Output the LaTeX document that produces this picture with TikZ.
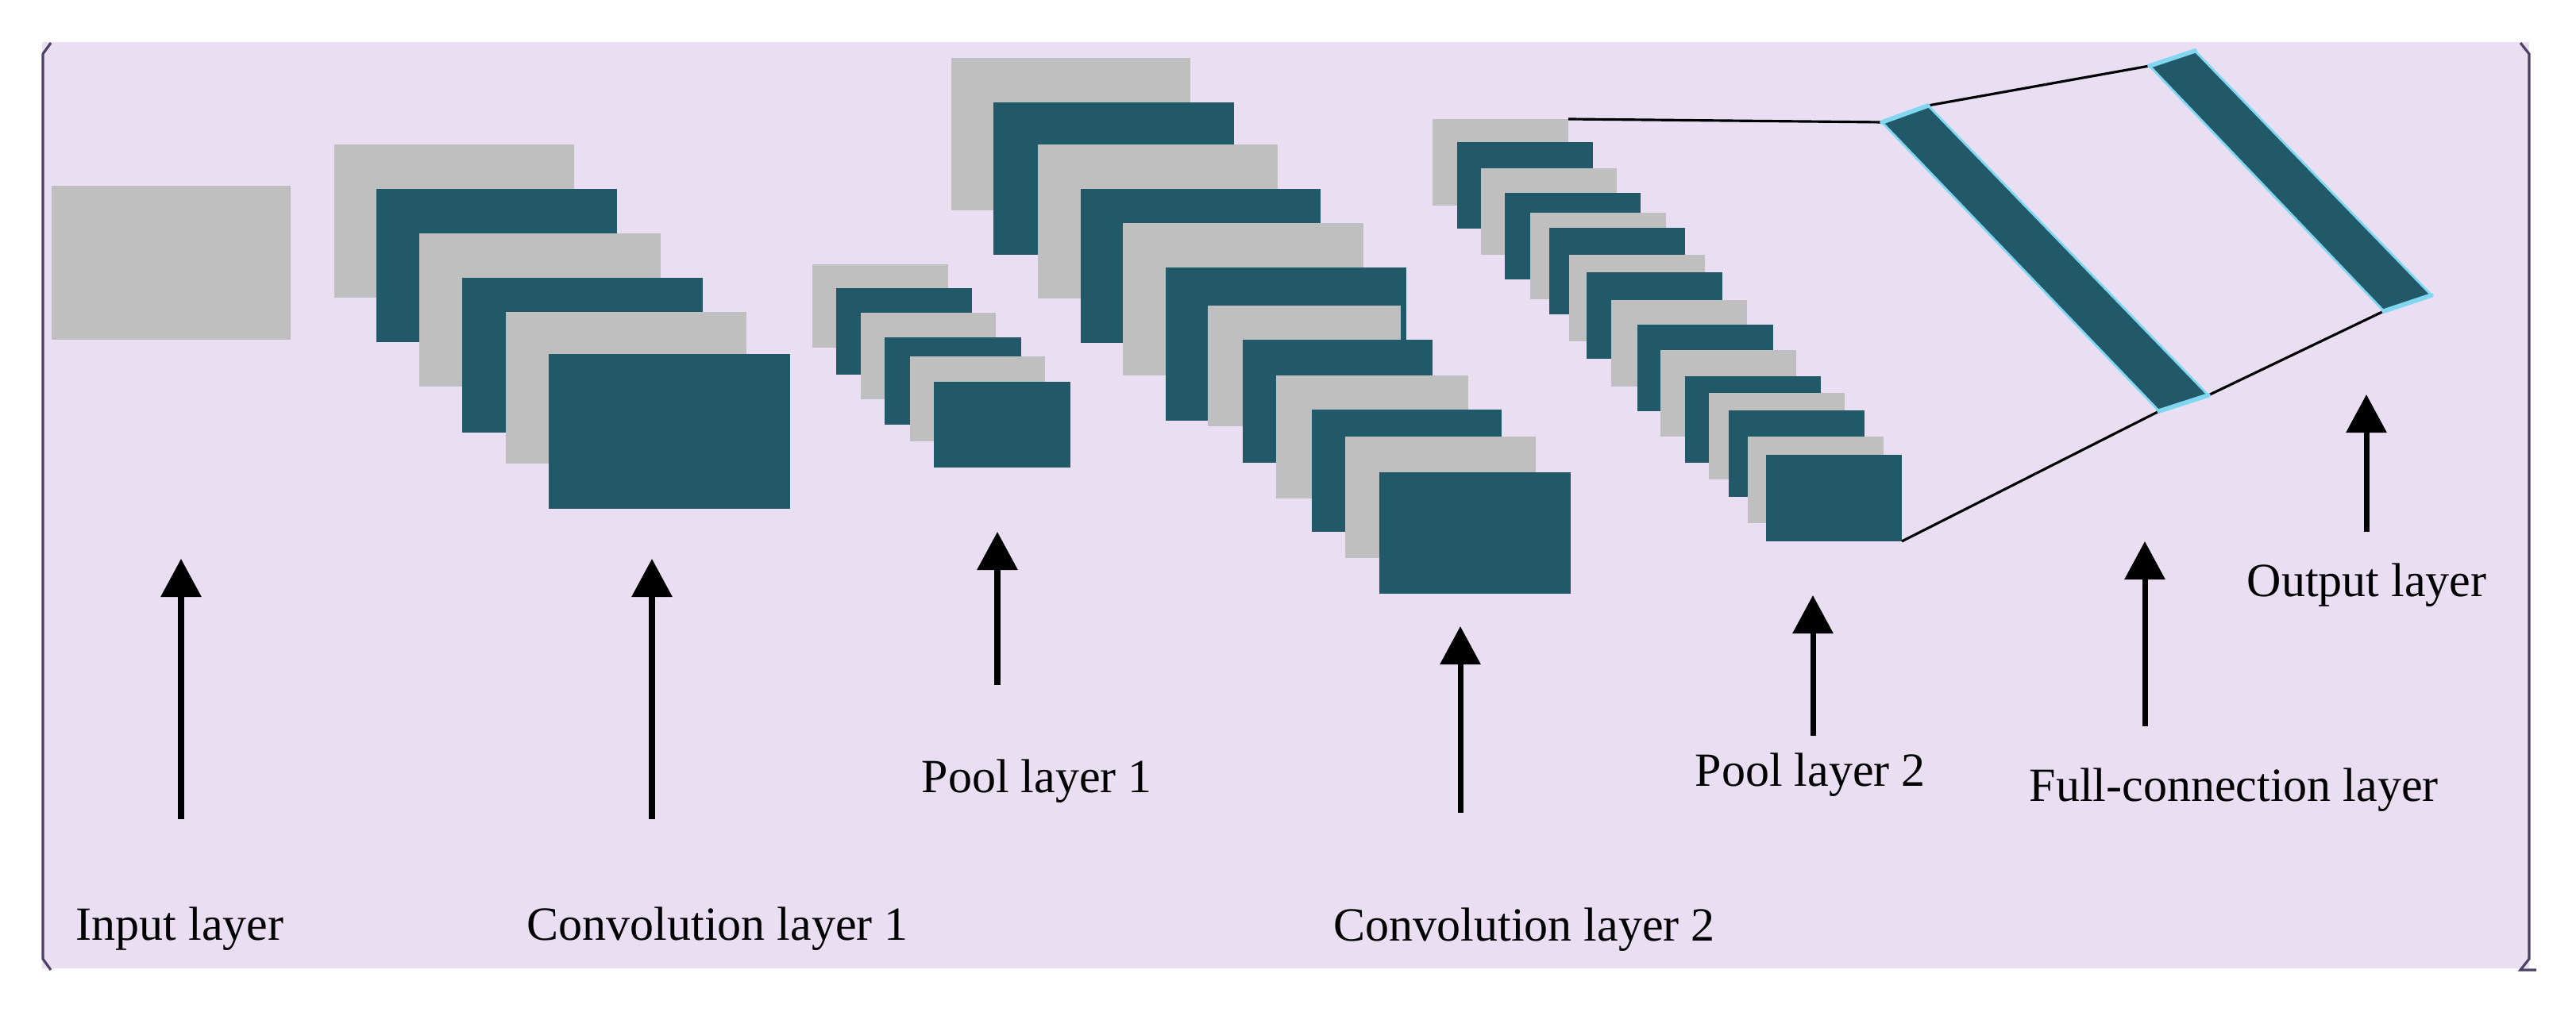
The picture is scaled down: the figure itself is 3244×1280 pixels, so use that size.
\documentclass[tikz,border=0pt]{standalone}
\usepackage{fontspec}
\setmainfont{Liberation Serif}
\usetikzlibrary{arrows.meta,fit}
\definecolor{lav}{RGB}{234,222,243}
\definecolor{gbox}{RGB}{191,191,191}
\definecolor{tbox}{RGB}{33,89,104}
\definecolor{glow}{RGB}{130,215,240}
\definecolor{frame}{RGB}{75,65,105}
\newcommand{\lay}[6]{\node[#2, fit={(#3,#4)(#5,#6)}] (#1) {};}
\begin{document}
\begin{tikzpicture}[x=0.01cm,y=-0.01cm,
  graybox/.style={fill=gbox, draw=none, inner sep=0pt, outer sep=0pt},
  tealbox/.style={fill=tbox, draw=none, inner sep=0pt, outer sep=0pt},
  lbl/.style={anchor=base west, inner sep=0pt, font=\fontsize{17.07}{20}\selectfont},
  uparrow/.style={line width=2pt, -{Triangle[width=14.2pt,length=13.7pt]}},
  link/.style={line width=0.9pt, black},
  bar/.style={fill=tbox, draw=glow, line width=0.8pt, line join=miter},
  barend/.style={draw=glow, line width=1.6pt, line cap=round},
  framel/.style={draw=frame, line width=0.9pt}]
\useasboundingbox (0,0) rectangle (3244,1280);
\fill[white] (0,0) rectangle (3244,1280);
\fill[lav] (53,53) rectangle (3185,1220);
\draw[framel] (64,54) -- (54,68) -- (54,1208) -- (64,1222);
\draw[framel] (3174,54) -- (3185,68) -- (3185,1208) -- (3174,1222) -- (3194,1222);

% input layer
\lay{inp}{graybox}{65}{234}{366}{428}

% convolution layer 1
\lay{ca1}{graybox}{421}{182}{723}{375}
\lay{ca2}{tealbox}{474}{238}{777}{431}
\lay{ca3}{graybox}{528}{294}{832}{487}
\lay{ca4}{tealbox}{582}{350}{885}{545}
\lay{ca5}{graybox}{637}{393}{940}{584}
\lay{ca6}{tealbox}{691}{446}{995}{641}

% pool layer 1
\lay{pa1}{graybox}{1023}{333}{1194}{438}
\lay{pa2}{tealbox}{1053}{363}{1224}{472}
\lay{pa3}{graybox}{1084}{394}{1254}{503}
\lay{pa4}{tealbox}{1114}{425}{1286}{535}
\lay{pa5}{graybox}{1146}{449}{1316}{556}
\lay{pa6}{tealbox}{1176}{481}{1348}{589}

% convolution layer 2
\lay{cb1}{graybox}{1198}{73}{1499}{265}
\lay{cb2}{tealbox}{1251}{129}{1554}{321}
\lay{cb3}{graybox}{1307}{182}{1609}{376}
\lay{cb4}{tealbox}{1361}{238}{1663}{432}
\lay{cb5}{graybox}{1414}{281}{1717}{473}
\lay{cb6}{tealbox}{1468}{337}{1771}{530}
\lay{cb7}{graybox}{1521}{385}{1764}{537}
\lay{cb8}{tealbox}{1565}{428}{1804}{583}
\lay{cb9}{graybox}{1607}{473}{1849}{628}
\lay{cb10}{tealbox}{1652}{516}{1891}{670}
\lay{cb11}{graybox}{1694}{550}{1934}{703}
\lay{cb12}{tealbox}{1737}{595}{1978}{748}

% pool layer 2
\foreach \n/\s/\x/\y in {pb1/graybox/1804/150, pb2/tealbox/1835/179,
  pb3/graybox/1865/212, pb4/tealbox/1895/243, pb5/graybox/1927/268,
  pb6/tealbox/1951/287, pb7/graybox/1976/321, pb8/tealbox/1998/343,
  pb9/graybox/2029/378, pb10/tealbox/2062/409, pb11/graybox/2091/441,
  pb12/tealbox/2122/474, pb13/graybox/2152/495, pb14/tealbox/2177/517,
  pb15/graybox/2201/550, pb16/tealbox/2224/573}
  {\node[\s, fit={(\x,\y)({\x+171},{\y+109})}] (\n) {};}

% full-connection and output bars
\coordinate (f1a) at (2370,154);
\coordinate (f1b) at (2428,133);
\coordinate (f1c) at (2781,498);
\coordinate (f1d) at (2719,518);
\coordinate (f2a) at (2707,83);
\coordinate (f2b) at (2764,64);
\coordinate (f2c) at (3062,372);
\coordinate (f2d) at (3002,392);

\draw[link] (pb1.north east) -- (f1a);
\draw[link] (f1b) -- (f2a);
\draw[link] (pb16.south east) -- (f1d);
\draw[link] (f1c) -- (f2d);

\filldraw[bar] (f1a) -- (f1b) -- (f1c) -- (f1d) -- cycle;
\filldraw[bar] (f2a) -- (f2b) -- (f2c) -- (f2d) -- cycle;
\draw[barend] (f1a) -- (f1b);
\draw[barend] (f1c) -- (f1d);
\draw[barend] (f2a) -- (f2b);
\draw[barend] (f2c) -- (f2d);

% arrows
\coordinate (a1b) at (228,1032); \coordinate (a1t) at (228,704);
\coordinate (a2b) at (821,1032); \coordinate (a2t) at (821,704);
\coordinate (a3b) at (1256,863); \coordinate (a3t) at (1256,670);
\coordinate (a4b) at (1839,1024); \coordinate (a4t) at (1839,789);
\coordinate (a5b) at (2283,927); \coordinate (a5t) at (2283,750);
\coordinate (a6b) at (2701,915); \coordinate (a6t) at (2701,682);
\coordinate (a7b) at (2980,670); \coordinate (a7t) at (2980,497);
\draw[uparrow] (a1b) -- (a1t);
\draw[uparrow] (a2b) -- (a2t);
\draw[uparrow] (a3b) -- (a3t);
\draw[uparrow] (a4b) -- (a4t);
\draw[uparrow] (a5b) -- (a5t);
\draw[uparrow] (a6b) -- (a6t);
\draw[uparrow] (a7b) -- (a7t);

% labels
\node[lbl] (l1) at (95,1185) {Input layer};
\node[lbl] (l2) at (663,1185) {Convolution layer 1};
\node[lbl] (l3) at (1160,999) {Pool layer 1};
\node[lbl] (l4) at (1679,1186) {Convolution layer 2};
\node[lbl] (l5) at (2134,991) {Pool layer 2};
\node[lbl] (l6) at (2555,1010) {Full-connection layer};
\node[lbl] (l7) at (2829,752) {Output layer};
\end{tikzpicture}
\end{document}
